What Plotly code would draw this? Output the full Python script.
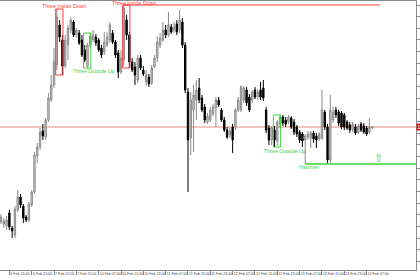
import plotly.graph_objects as go
import numpy as np

# ---------------- data (H1 candles) ----------------
open_ = [1.2778,1.2776,1.2774,1.2787,1.2772,1.2765,1.2790,1.2803,1.2794,1.2783,
         1.2780,1.2795,1.2808,1.2844,1.2853,1.2869,1.2863,1.2880,1.2900,1.2915,
         1.2935,1.2975,1.2960,1.2934,1.2955,1.2970,1.2978,1.2965,1.2967,1.2960,
         1.2950,1.2934,1.2955,1.2960,1.2963,1.2960,1.2952,1.2948,1.2955,1.2960,
         1.2967,1.2958,1.2947,1.2928,1.2940,1.2980,1.2965,1.2938,1.2933,1.2920,
         1.2942,1.2930,1.2918,1.2923,1.2917,1.2933,1.2942,1.2955,1.2960,1.2970,
         1.2965,1.2973,1.2970,1.2976,1.2970,1.2978,1.2955,1.2908,1.2862,1.2890,
         1.2900,1.2912,1.2902,1.2893,1.2878,1.2880,1.2886,1.2892,1.2900,1.2890,
         1.2880,1.2870,1.2865,1.2873,1.2873,1.2890,1.2890,1.2900,1.2910,1.2903,
         1.2900,1.2910,1.2903,1.2910,1.2912,1.2890,1.2872,1.2860,1.2870,1.2859,
         1.2876,1.2883,1.2880,1.2878,1.2882,1.2878,1.2873,1.2868,1.2866,1.2860,
         1.2863,1.2862,1.2867,1.2864,1.2861,1.2862,1.2888,1.2873,1.2840,1.2880,
         1.2890,1.2888,1.2887,1.2885,1.2878,1.2875,1.2870,1.2873,1.2868,1.2876,
         1.2874,1.2872,1.2868,1.2872]
high = [1.2786,1.2782,1.2784,1.2790,1.2774,1.2794,1.2810,1.2806,1.2796,1.2785,
        1.2798,1.2810,1.2848,1.2857,1.2872,1.2876,1.2882,1.2907,1.2925,1.2952,
        1.2991,1.2980,1.2965,1.2965,1.2975,1.2983,1.2980,1.2972,1.2970,1.2965,
        1.2955,1.2957,1.2967,1.2970,1.2966,1.2962,1.2955,1.2968,1.2968,1.2978,
        1.2970,1.2960,1.2950,1.2950,1.2995,1.2985,1.2968,1.2942,1.2938,1.2945,
        1.2945,1.2934,1.2930,1.2926,1.2935,1.2945,1.2964,1.2967,1.2978,1.2975,
        1.2988,1.2976,1.2978,1.2980,1.2990,1.2982,1.2958,1.2912,1.2908,1.2915,
        1.2920,1.2922,1.2905,1.2896,1.2887,1.2893,1.2896,1.2903,1.2903,1.2892,
        1.2883,1.2873,1.2872,1.2876,1.2892,1.2903,1.2915,1.2914,1.2913,1.2906,
        1.2910,1.2913,1.2911,1.2918,1.2920,1.2893,1.2875,1.2874,1.2874,1.2880,
        1.2885,1.2885,1.2883,1.2885,1.2884,1.2881,1.2875,1.2870,1.2868,1.2866,
        1.2869,1.2869,1.2869,1.2867,1.2868,1.2910,1.2890,1.2876,1.2905,1.2893,
        1.2893,1.2890,1.2889,1.2887,1.2880,1.2878,1.2878,1.2876,1.2876,1.2878,
        1.2877,1.2874,1.2882,1.2874]
low = [1.2776,1.2772,1.2770,1.2770,1.2762,1.2762,1.2788,1.2792,1.2777,1.2778,
       1.2778,1.2793,1.2806,1.2837,1.2850,1.2860,1.2860,1.2878,1.2898,1.2912,
       1.2930,1.2958,1.2925,1.2932,1.2940,1.2967,1.2963,1.2962,1.2955,1.2943,
       1.2938,1.2932,1.2952,1.2958,1.2954,1.2948,1.2942,1.2945,1.2953,1.2957,
       1.2956,1.2942,1.2922,1.2926,1.2934,1.2960,1.2932,1.2928,1.2915,1.2917,
       1.2930,1.2924,1.2914,1.2913,1.2915,1.2932,1.2938,1.2952,1.2958,1.2962,
       1.2963,1.2966,1.2967,1.2965,1.2967,1.2952,1.2907,1.2808,1.2845,1.2848,
       1.2880,1.2897,1.2888,1.2877,1.2876,1.2878,1.2884,1.2873,1.2893,1.2878,
       1.2868,1.2861,1.2862,1.2847,1.2870,1.2888,1.2888,1.2897,1.2894,1.2888,
       1.2897,1.2901,1.2900,1.2900,1.2899,1.2867,1.2855,1.2855,1.2853,1.2854,
       1.2872,1.2874,1.2873,1.2876,1.2871,1.2865,1.2863,1.2857,1.2853,1.2836,
       1.2860,1.2852,1.2857,1.2852,1.2859,1.2860,1.2870,1.2837,1.2837,1.2877,
       1.2882,1.2874,1.2871,1.2870,1.2870,1.2867,1.2868,1.2865,1.2866,1.2868,
       1.2866,1.2864,1.2866,1.2871]
close = [1.2783,1.2779,1.2780,1.2773,1.2769,1.2791,1.2803,1.2795,1.2782,1.2780,
         1.2796,1.2808,1.2845,1.2853,1.2868,1.2864,1.2880,1.2902,1.2915,1.2938,
         1.2983,1.2963,1.2934,1.2960,1.2972,1.2980,1.2965,1.2970,1.2957,1.2945,
         1.2940,1.2955,1.2964,1.2965,1.2957,1.2950,1.2945,1.2958,1.2963,1.2975,
         1.2958,1.2945,1.2928,1.2942,1.2992,1.2965,1.2938,1.2930,1.2925,1.2942,
         1.2932,1.2926,1.2925,1.2916,1.2932,1.2942,1.2958,1.2962,1.2970,1.2965,
         1.2975,1.2968,1.2973,1.2968,1.2980,1.2955,1.2910,1.2860,1.2900,1.2905,
         1.2910,1.2900,1.2890,1.2880,1.2884,1.2890,1.2893,1.2900,1.2895,1.2880,
         1.2870,1.2863,1.2869,1.2860,1.2890,1.2900,1.2913,1.2912,1.2897,1.2890,
         1.2908,1.2903,1.2908,1.2903,1.2902,1.2870,1.2860,1.2872,1.2860,1.2878,
         1.2883,1.2877,1.2876,1.2883,1.2873,1.2868,1.2866,1.2860,1.2859,1.2864,
         1.2866,1.2867,1.2861,1.2860,1.2866,1.2890,1.2873,1.2840,1.2890,1.2888,
         1.2885,1.2877,1.2873,1.2873,1.2872,1.2870,1.2876,1.2867,1.2874,1.2870,
         1.2868,1.2866,1.2873,1.2873]

tick_labels = ["6 Feb 15:00", "6 Feb 23:00", "7 Feb 07:00", "7 Feb 15:00",
               "10 Feb 07:00", "10 Feb 15:00", "10 Feb 23:00", "11 Feb 07:00",
               "11 Feb 15:00", "11 Feb 23:00", "12 Feb 07:00", "12 Feb 15:00",
               "12 Feb 23:00", "13 Feb 07:00", "13 Feb 15:00", "13 Feb 23:00",
               "14 Feb 07:00"]
tick_index = [3 + 8 * k for k in range(len(tick_labels))]

# pattern name, first candle index, colour
patterns = [("Three Inside Down", 20, "red"), ("Three Outside Up", 30, "green"),
            ("Three Inside Down", 44, "red"), ("Three Outside Up", 98, "green")]
hammer_index = 109
resistance_index = 44

RED = "#ff3b3b"
GREEN = "#3fd13f"

n = len(close)
x = np.arange(n)

fig = go.Figure()
fig.add_trace(go.Candlestick(
    x=x, open=open_, high=high, low=low, close=close,
    increasing=dict(line=dict(color="#8a8a8a", width=1), fillcolor="#d4d4d4"),
    decreasing=dict(line=dict(color="#000000", width=1), fillcolor="#000000"),
    whiskerwidth=0, showlegend=False, hoverinfo="skip"))

shapes = []
last = close[-1]
shapes.append(dict(type="line", xref="paper", x0=0, x1=1, yref="y", y0=last, y1=last,
                   line=dict(color="#e98a8a", width=1), layer="below"))
for name, s, col in patterns:
    c = RED if col == "red" else GREEN
    shapes.append(dict(type="rect", x0=s - 0.4, x1=s + 2.2,
                       y0=min(low[s:s + 3]), y1=max(high[s:s + 3]),
                       line=dict(color=c, width=1), fillcolor="rgba(0,0,0,0)"))
shapes.append(dict(type="line", x0=resistance_index, x1=135.9,
                   y0=high[resistance_index], y1=high[resistance_index],
                   line=dict(color=RED, width=1)))
shapes.append(dict(type="line", x0=hammer_index, x1=150,
                   y0=low[hammer_index], y1=low[hammer_index],
                   line=dict(color=GREEN, width=1.5)))

lab_font = dict(family="Liberation Sans", size=5.3)
ann = []
label_pos = [(22.9, 1.29937), (33.3, 1.2929), (47.7, 1.29975), (101.6, 1.28493)]
for (name, s, col), (lx, ly) in zip(patterns, label_pos):
    c = RED if col == "red" else GREEN
    ann.append(dict(x=lx, y=ly, text=name, showarrow=False,
                    font=dict(lab_font, color=c), xanchor="center", yanchor="middle"))
ann.append(dict(x=-1.1, y=1.27983, text="Three Inside Down", showarrow=False,
                font=dict(lab_font, color=RED), xanchor="center", yanchor="middle"))
ann.append(dict(x=110.4, y=1.28327, text="Hammer", showarrow=False,
                font=dict(lab_font, color=GREEN), xanchor="center", yanchor="middle"))
ann.append(dict(x=135.1, y=1.2842, text="⇧", showarrow=False,
                font=dict(family="DejaVu Sans", size=11, color=GREEN),
                xanchor="center", yanchor="middle"))
ann.append(dict(xref="paper", x=1.0, y=last, text=f"{last:.4f}", showarrow=False,
                xanchor="left", yanchor="middle", bgcolor="#d01010",
                font=dict(family="Liberation Sans", size=6, color="white"), borderpad=0))

fig.update_layout(
    width=420, height=280,
    margin=dict(l=0, r=4, t=1, b=10),
    paper_bgcolor="white", plot_bgcolor="white",
    shapes=shapes, annotations=ann,
    xaxis=dict(range=[-0.358, 148.7], rangeslider=dict(visible=False),
               tickvals=tick_index, ticktext=tick_labels, tickangle=0,
               automargin=False,
               showgrid=False, zeroline=False,
               showline=True, mirror=True, linecolor="#8c8c8c", linewidth=1,
               ticks="outside", ticklen=4, tickcolor="#8c8c8c",
               ticklabelposition="outside right",
               tickfont=dict(family="Liberation Sans", size=3.6, color="#444444")),
    yaxis=dict(range=[1.2730, 1.2999], side="right", automargin=False,
               tick0=1.2995, dtick=0.001165, tickformat=".4f",
               showgrid=False, zeroline=False,
               showline=True, linecolor="#8c8c8c", linewidth=1,
               ticks="outside", ticklen=3, tickcolor="#8c8c8c",
               tickfont=dict(family="Liberation Sans", size=5, color="#333333")),
)

fig.write_html("out.html")
